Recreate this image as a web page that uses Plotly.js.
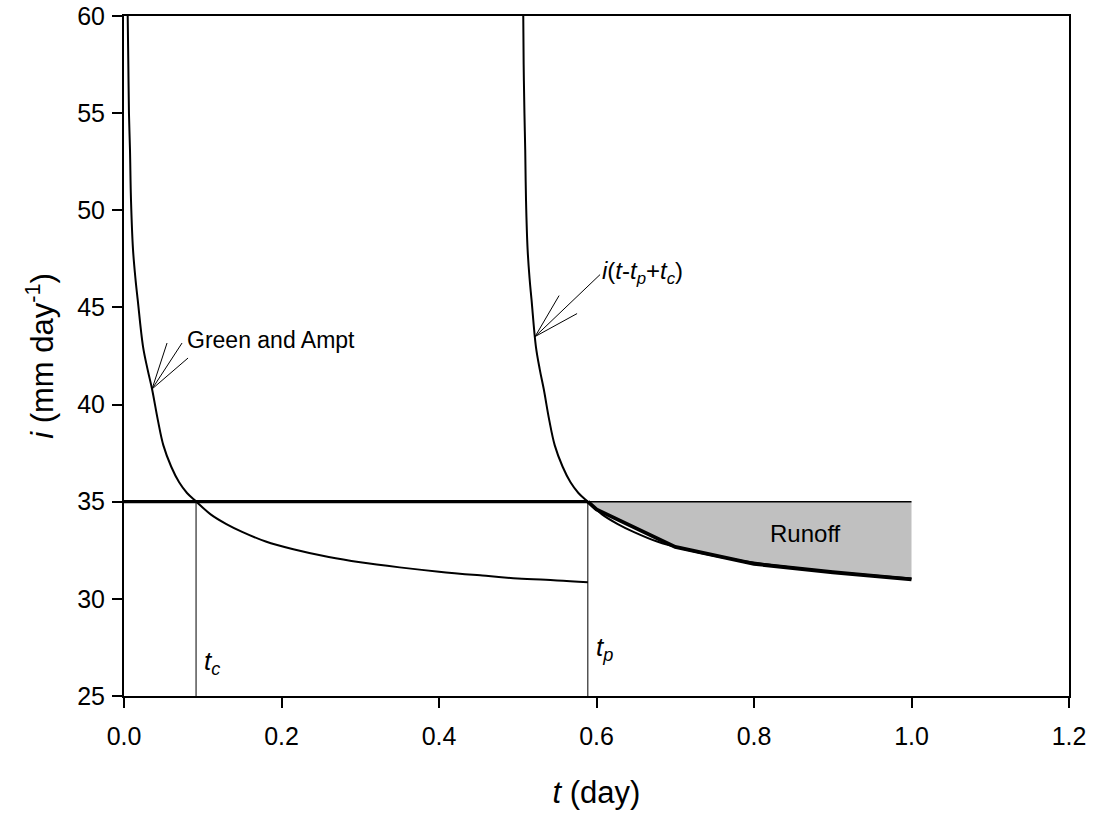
<!DOCTYPE html>
<html>
<head>
<meta charset="utf-8">
<script src="https://cdn.plot.ly/plotly-3.0.1.min.js"></script>
<style>
  html, body { margin: 0; padding: 0; background: #ffffff; }
  #chart { width: 1093px; height: 818px; }
</style>
</head>
<body>
<div id="chart"></div>
<script>
// Green and Ampt infiltration capacity curve i(t)
const gaT = [0.0047, 0.0055, 0.0063, 0.0076, 0.0089, 0.0114, 0.0145, 0.0174, 0.0241, 0.0300,
             0.0356, 0.043, 0.050, 0.060, 0.070, 0.080, 0.092, 0.110, 0.130, 0.150,
             0.180, 0.215, 0.260, 0.300, 0.350, 0.400, 0.455, 0.500, 0.550, 0.589];
const gaI = [60, 57.5, 55, 53.1, 50.5, 48, 46.5, 45.4, 43, 41.8,
             40.8, 39.2, 37.9, 36.8, 36.0, 35.45, 35.0, 34.35, 33.85, 33.45,
             32.95, 32.55, 32.15, 31.88, 31.62, 31.4, 31.2, 31.05, 30.95, 30.85];

// Time-shifted curve i(t - tp + tc)
const shT = [0.507, 0.5075, 0.5085, 0.5095, 0.5105, 0.5125, 0.5150, 0.5175, 0.5230, 0.5280,
             0.5330, 0.5400, 0.5470, 0.5570, 0.5670, 0.5770, 0.5890, 0.6070, 0.6270, 0.6470,
             0.6770, 0.7120, 0.7570, 0.7970, 0.8470, 0.8970, 0.9520, 1.0];
const shI = [60, 57.5, 55, 53.1, 50.5, 48, 46.5, 45.4, 43, 41.8,
             40.8, 39.2, 37.9, 36.8, 36.0, 35.45, 35.0, 34.35, 33.85, 33.45,
             32.95, 32.55, 32.15, 31.88, 31.62, 31.4, 31.2, 31.05];

// Infiltration after ponding (lower edge of the runoff area)
const runT = [0.589, 0.600, 0.700, 0.800, 0.900, 1.000];
const runI = [35.0, 34.6, 32.67, 31.8, 31.37, 31.0];

// Rainfall rate and characteristic times
const rainRate = 35;
const tStart = 0;
const tEnd = 1.0;
const tc = 0.0915;
const tp = 0.589;
const axisMin = 25;

// Label anchors
const gaLabel = { t: 0.0775, i: 43.3, tipT: 0.0356, tipI: 40.8 };
const shLabel = { t: 0.6045, i: 46.8, tipT: 0.522, tipI: 43.5 };
const runLabel = { t: 0.866, i: 33.35 };
const tcLabel = { t: 0.099, i: 26.75 };
const tpLabel = { t: 0.597, i: 27.45 };

const FONT = 'Liberation Sans, Arial, sans-serif';
const black = '#000000';

// Runoff polygon: rainfall line forward, infiltration line backward
const polyT = [tp, tEnd].concat(runT.slice().reverse());
const polyI = [rainRate, rainRate].concat(runI.slice().reverse());

const curveLine = { color: black, width: 2, shape: 'spline', smoothing: 1.0 };

const traces = [
  { x: polyT, y: polyI, mode: 'lines', fill: 'toself', fillcolor: '#c0c0c0',
    line: { width: 0, color: 'rgba(0,0,0,0)' }, hoverinfo: 'skip' },
  { x: [tp, tEnd], y: [rainRate, rainRate], mode: 'lines',
    line: { color: black, width: 1.5 } },
  { x: [tc, tc], y: [axisMin, rainRate], mode: 'lines', line: { color: black, width: 1 } },
  { x: [tp, tp], y: [axisMin, rainRate], mode: 'lines', line: { color: black, width: 1 } },
  { x: gaT, y: gaI, mode: 'lines', line: curveLine },
  { x: shT, y: shI, mode: 'lines', line: curveLine },
  { x: [tStart, tp], y: [rainRate, rainRate], mode: 'lines', line: { color: black, width: 3.2 } },
  { x: runT, y: runI, mode: 'lines', line: { color: black, width: 3.8 } }
];

// Open pointer made of a shaft and two long barbs, in pixel offsets from the tip
function pointer(tipT, tipI, ends) {
  return ends.map(e => ({
    type: 'line', xref: 'x', yref: 'y',
    xsizemode: 'pixel', ysizemode: 'pixel',
    xanchor: tipT, yanchor: tipI,
    x0: 0, y0: 0, x1: e[0], y1: e[1],
    line: { color: black, width: 1 }
  }));
}

const shapes = []
  .concat(pointer(gaLabel.tipT, gaLabel.tipI, [[30, 46], [15, 46], [36, 31]]))
  .concat(pointer(shLabel.tipT, shLabel.tipI, [[65, 62], [24, 41], [42, 23]]));

const annFont = { family: FONT, size: 24, color: black };
const annotations = [
  { x: gaLabel.t, y: gaLabel.i, text: 'Green and Ampt', showarrow: false,
    xanchor: 'left', yanchor: 'middle', font: { family: FONT, size: 23, color: black } },
  { x: shLabel.t, y: shLabel.i, text: '<i>i</i>(<i>t</i>-<i>t</i><sub><i>p</i></sub>+<i>t</i><sub><i>c</i></sub>)',
    showarrow: false, xanchor: 'left', yanchor: 'middle', font: annFont },
  { x: runLabel.t, y: runLabel.i, text: 'Runoff', showarrow: false,
    xanchor: 'center', yanchor: 'middle', font: annFont },
  { x: tcLabel.t, y: tcLabel.i, text: '<i>t<sub>c</sub></i>', showarrow: false,
    xanchor: 'left', yanchor: 'middle', font: { family: FONT, size: 26, color: black } },
  { x: tpLabel.t, y: tpLabel.i, text: '<i>t<sub>p</sub></i>', showarrow: false,
    xanchor: 'left', yanchor: 'middle', font: { family: FONT, size: 26, color: black } }
];

const axisCommon = {
  showgrid: false, zeroline: false,
  showline: true, linecolor: black, linewidth: 2, mirror: true,
  ticks: 'outside', ticklen: 10, tickwidth: 2, tickcolor: black,
  tickfont: { family: FONT, size: 25, color: black }
};

const titleFont = { family: FONT, size: 31, color: black };

const layout = {
  width: 1093, height: 818,
  margin: { l: 124, r: 24, t: 16, b: 122 },
  paper_bgcolor: '#ffffff', plot_bgcolor: '#ffffff',
  showlegend: false,
  xaxis: Object.assign({}, axisCommon, {
    range: [0, 1.2], tick0: 0, dtick: 0.2, tickformat: '.1f',
    ticklabelstandoff: 7,
    title: { text: '<i>t</i> (day)', font: titleFont, standoff: 32 }
  }),
  yaxis: Object.assign({}, axisCommon, {
    range: [25, 60], tick0: 25, dtick: 5,
    ticklabelstandoff: 2,
    title: { text: '<i>i</i> (mm day<sup>-1</sup>)', font: titleFont, standoff: 14 }
  }),
  shapes: shapes,
  annotations: annotations
};

Plotly.newPlot('chart', traces, layout, { staticPlot: true, displayModeBar: false });
</script>
</body>
</html>
